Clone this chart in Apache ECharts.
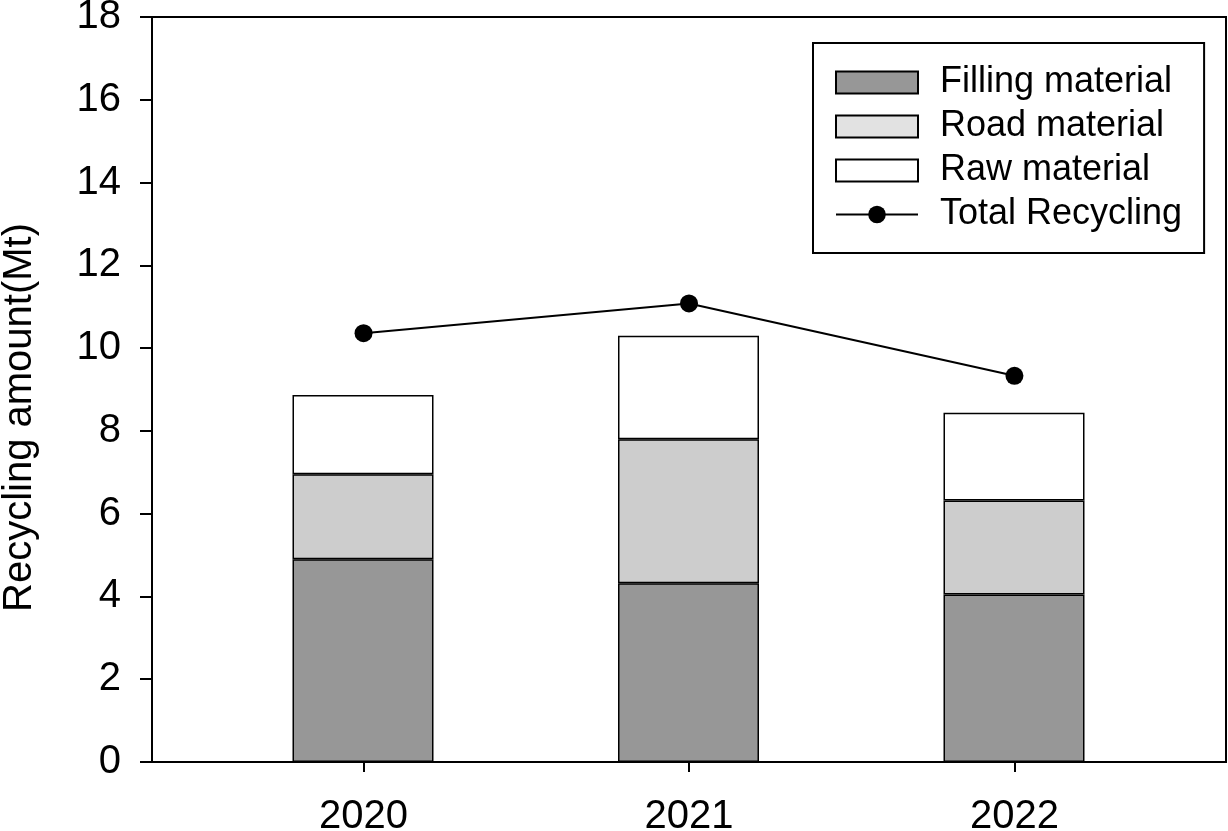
<!DOCTYPE html>
<html>
<head>
<meta charset="utf-8">
<script src="https://cdn.jsdelivr.net/npm/echarts@6/dist/echarts.min.js"></script>
<style>
html,body{margin:0;padding:0;background:#fff;}
#chart{width:1228px;height:831px;}
</style>
</head>
<body>
<div id="chart"></div>
<script>
const years = [2020, 2021, 2022];
const yearLabels = ['2020', '2021', '2022'];
const filling = [4.90, 4.32, 4.05];
const road = [2.05, 3.48, 2.27];
const raw = [1.92, 2.50, 2.12];
const total = [10.36, 11.08, 9.33];

const FONT = 'Liberation Sans';
const pair = arr => arr.map((v, i) => [years[i], v]);

const chart = echarts.init(document.getElementById('chart'), null, {renderer: 'canvas'});
chart.setOption({
  animation: false,
  backgroundColor: '#fff',
  textStyle: {fontFamily: FONT, color: '#000'},
  grid: [
    {left: 152, top: 17, right: 2, bottom: 69, show: true, borderColor: '#000', borderWidth: 2,
     backgroundColor: 'transparent', outerBoundsMode: 'none', containLabel: false},
    {left: 200.25, top: 17, right: 51.25, bottom: 69, show: false, outerBoundsMode: 'none', containLabel: false}
  ],
  legend: {
    left: 813, top: 43, orient: 'vertical',
    padding: [21.5, 22, 20.5, 22],
    borderColor: '#000', borderWidth: 2,
    itemWidth: 82, itemHeight: 22, itemGap: 8,
    textStyle: {fontFamily: FONT, fontSize: 36, color: '#000', lineHeight: 36, padding: [0, 0, 0, 17]},
    data: [
      {name: 'Filling material', icon: 'rect'},
      {name: 'Road material', icon: 'rect', itemStyle: {color: '#e2e2e2'}},
      {name: 'Raw material', icon: 'rect'},
      {name: 'Total Recycling'}
    ]
  },
  xAxis: [
    {
      type: 'value', gridIndex: 0, min: 2019.35, max: 2022.65,
      axisLine: {show: true, lineStyle: {color: '#000', width: 2}},
      axisTick: {show: true, inside: false, length: 10, lineStyle: {color: '#000', width: 2}, customValues: years},
      axisLabel: {show: true, margin: 35, fontSize: 40, color: '#000', fontFamily: FONT, customValues: years, formatter: v => String(v)},
      splitLine: {show: false}
    },
    {
      type: 'category', gridIndex: 1, data: yearLabels, boundaryGap: true,
      axisLine: {show: false}, axisTick: {show: false}, axisLabel: {show: false}, splitLine: {show: false}
    }
  ],
  yAxis: [
    {
      type: 'value', gridIndex: 0, min: 0, max: 18, interval: 2,
      name: 'Recycling amount(Mt)', nameLocation: 'middle', nameGap: 112,
      nameTextStyle: {fontFamily: FONT, fontSize: 40, color: '#000', padding: [0, 56, 0, 0]},
      axisLine: {show: true, lineStyle: {color: '#000', width: 2}},
      axisTick: {show: true, inside: false, length: 12, lineStyle: {color: '#000', width: 2}},
      axisLabel: {margin: 31, fontSize: 40, color: '#000', fontFamily: FONT},
      splitLine: {show: false}
    },
    {
      type: 'value', gridIndex: 1, min: 0, max: 18, interval: 2, show: false,
      axisLine: {show: false}, axisTick: {show: false}, axisLabel: {show: false}, splitLine: {show: false}
    }
  ],
  series: [
    {name: 'Filling material', type: 'bar', stack: 's', barWidth: 141, xAxisIndex: 1, yAxisIndex: 1, data: filling,
     itemStyle: {color: '#979797', borderColor: '#000', borderWidth: 1.5}},
    {name: 'Road material', type: 'bar', stack: 's', barWidth: 141, xAxisIndex: 1, yAxisIndex: 1, data: road,
     itemStyle: {color: '#cdcdcd', borderColor: '#000', borderWidth: 1.5}},
    {name: 'Raw material', type: 'bar', stack: 's', barWidth: 141, xAxisIndex: 1, yAxisIndex: 1, data: raw,
     itemStyle: {color: '#ffffff', borderColor: '#000', borderWidth: 1.5}},
    {name: 'Total Recycling', type: 'line', xAxisIndex: 0, yAxisIndex: 0, data: pair(total), z: 5,
     symbol: 'circle', symbolSize: 18,
     lineStyle: {color: '#000', width: 2}, itemStyle: {color: '#000'}}
  ]
});
</script>
</body>
</html>
